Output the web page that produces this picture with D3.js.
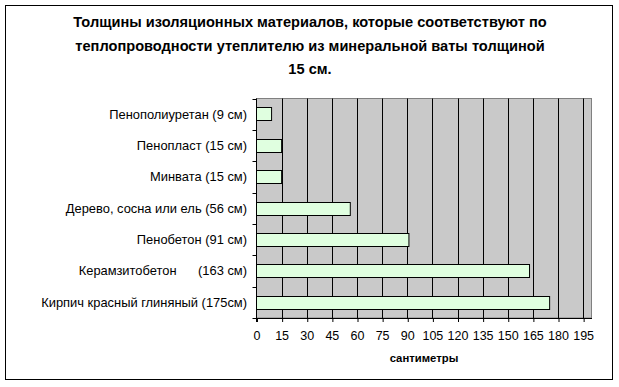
<!DOCTYPE html>
<html>
<head>
<meta charset="utf-8">
<script src="https://cdn.jsdelivr.net/npm/d3@7"></script>
<style>
  body { margin: 0; background: #fff; }
  svg { display: block; font-family: "Liberation Sans", Arial, sans-serif; }
</style>
</head>
<body>
<svg id="chart" width="619" height="387"></svg>
<script>
const titleLines = [
  "Толщины изоляционных материалов, которые соответствуют по",
  "теплопроводности утеплителю из минеральной ваты толщиной",
  "15 см."
];
const categories = [
  "Пенополиуретан (9 см)",
  "Пенопласт (15 см)",
  "Минвата (15 см)",
  "Дерево, сосна или ель (56 см)",
  "Пенобетон (91 см)",
  "Керамзитобетон      (163 см)",
  "Кирпич красный глиняный (175см)"
];
const values = [9, 15, 15, 56, 91, 163, 175];
const xTicks = [0, 15, 30, 45, 60, 75, 90, 105, 120, 135, 150, 165, 180, 195];
const xTitle = "сантиметры";

const svg = d3.select("#chart");
const plot = { left: 256.5, right: 591.5, top: 98.5, bottom: 318 };

// outer frame
svg.append("rect")
  .attr("x", 5.5).attr("y", 5.5)
  .attr("width", 607).attr("height", 374)
  .attr("fill", "#fff").attr("stroke", "#000").attr("stroke-width", 1);

svg.append("g")
  .selectAll("text")
  .data(titleLines)
  .join("text")
  .attr("x", 310)
  .attr("y", (d, i) => 27 + i * 23.5)
  .attr("text-anchor", "middle")
  .attr("font-size", 14.6)
  .attr("font-weight", "bold")
  .text(d => d);

const x = d3.scaleLinear().domain([0, 200]).range([plot.left, plot.right]);
const y = d3.scaleBand().domain(categories).range([plot.top, plot.bottom])
  .paddingInner(0.57).paddingOuter(0.285);

// plot background
svg.append("rect")
  .attr("x", plot.left).attr("y", plot.top)
  .attr("width", plot.right - plot.left).attr("height", plot.bottom - plot.top)
  .attr("fill", "#c9c9c9").attr("stroke", "#808080");

// vertical gridlines
svg.append("g")
  .selectAll("line")
  .data(xTicks.slice(1))
  .join("line")
  .attr("x1", d => Math.round(x(d)) + 0.5).attr("x2", d => Math.round(x(d)) + 0.5)
  .attr("y1", plot.top).attr("y2", plot.bottom)
  .attr("stroke", "#000");

// bars
svg.append("g")
  .selectAll("rect")
  .data(values)
  .join("rect")
  .attr("x", x(0))
  .attr("y", (d, i) => Math.round(y(categories[i])) + 0.5)
  .attr("width", d => x(d) - x(0))
  .attr("height", Math.round(y.bandwidth()))
  .attr("fill", "#e0ffe0")
  .attr("stroke", "#000");

// x axis
const xAxis = svg.append("g")
  .attr("transform", `translate(0,${plot.bottom})`)
  .call(d3.axisBottom(x).tickValues(xTicks).tickSize(4).tickPadding(9).tickSizeOuter(0));
xAxis.select(".domain").attr("stroke", "#000");
xAxis.selectAll(".tick line").attr("transform", "translate(0.5,0)");
xAxis.selectAll("text").attr("font-size", 12.5).attr("font-family", "Liberation Sans, Arial, sans-serif").attr("fill", "#000");

// y axis: ticks at category boundaries
const step = (plot.bottom - plot.top) / categories.length;
svg.append("line")
  .attr("x1", plot.left).attr("x2", plot.left)
  .attr("y1", plot.top).attr("y2", plot.bottom + 4)
  .attr("stroke", "#000");
svg.append("g")
  .selectAll("line")
  .data(d3.range(categories.length + 1))
  .join("line")
  .attr("x1", plot.left - 4).attr("x2", plot.left)
  .attr("y1", i => Math.round(plot.top + i * step) + 0.5)
  .attr("y2", i => Math.round(plot.top + i * step) + 0.5)
  .attr("stroke", "#000");

svg.append("g")
  .selectAll("text")
  .data(categories)
  .join("text")
  .attr("x", 247)
  .attr("y", d => y(d) + y.bandwidth() / 2)
  .attr("dy", "0.35em")
  .attr("text-anchor", "end")
  .attr("font-size", 12.9)
  .style("white-space", "pre")
  .text(d => d);

svg.append("text")
  .attr("x", 424)
  .attr("y", 362)
  .attr("text-anchor", "middle")
  .attr("font-size", 11.3)
  .attr("font-weight", "bold")
  .text(xTitle);
</script>
</body>
</html>
